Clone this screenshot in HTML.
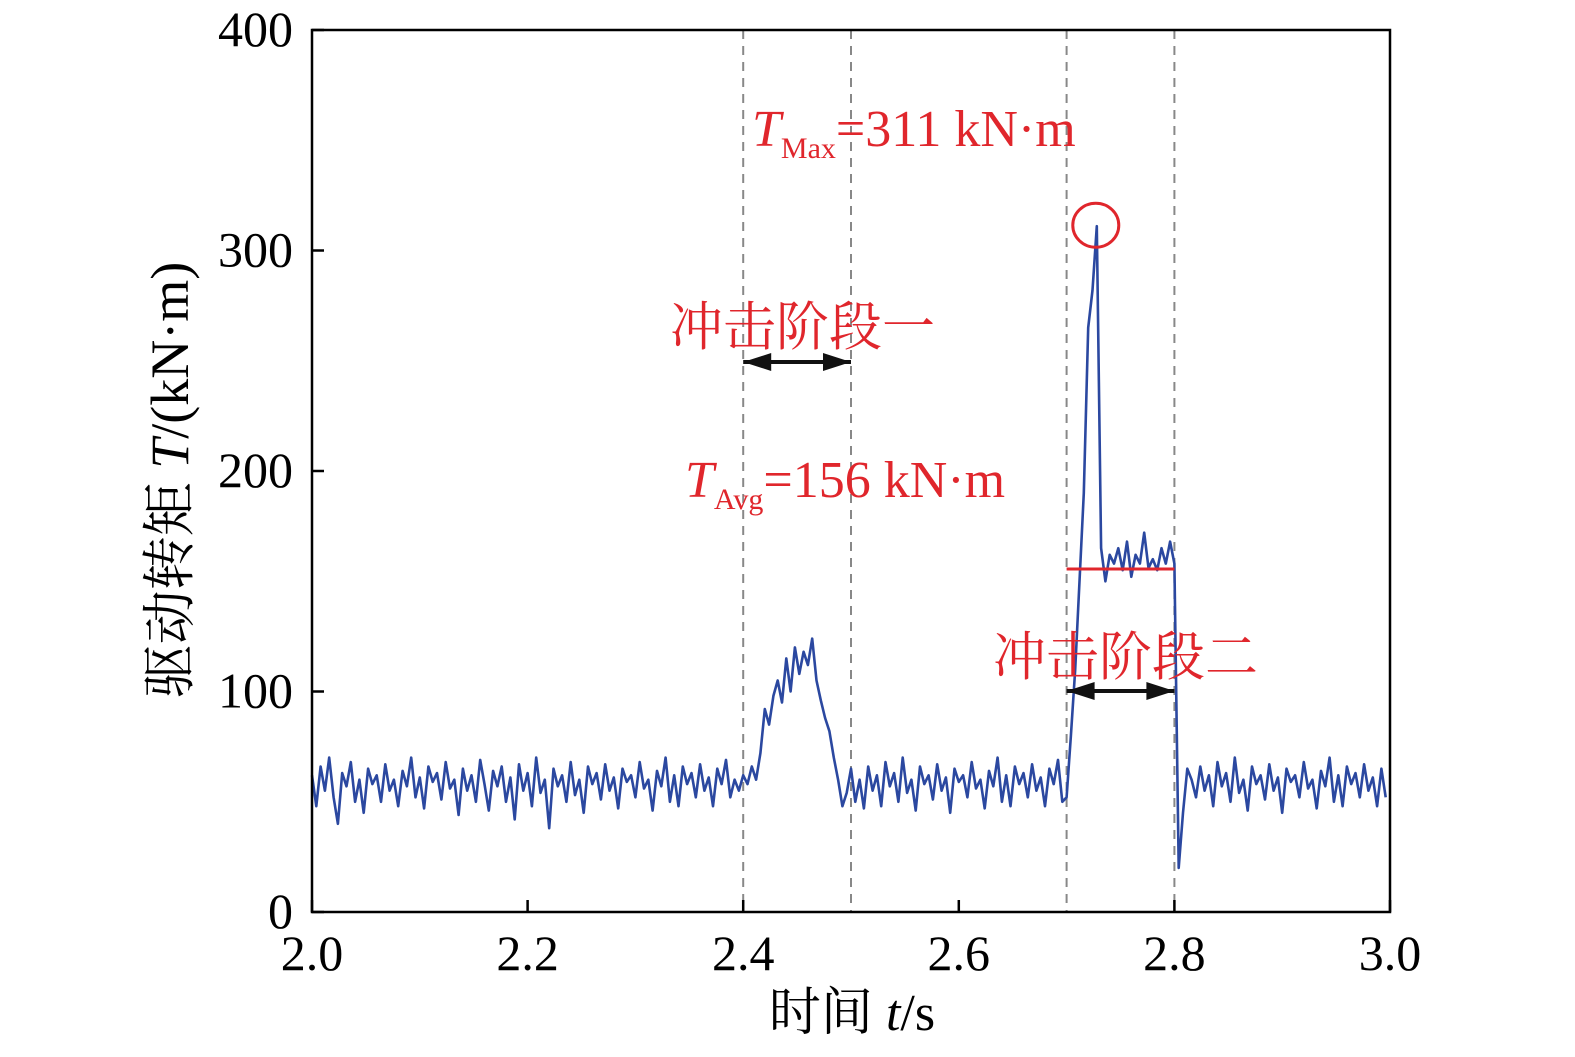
<!DOCTYPE html>
<html><head><meta charset="utf-8"><style>
body{margin:0;background:#fff}
svg text{font-family:"Liberation Serif","Noto Serif CJK SC",serif}
</style></head><body>
<svg id="chart" width="1575" height="1052">
<g id="grid"></g>
<path id="series" fill="none" stroke="#2b48a0" stroke-width="2.6" stroke-linejoin="round"/>
<g id="ann"></g>
<rect x="312" y="30" width="1078" height="882" fill="none" stroke="#000" stroke-width="2.5"/>
<g id="axes"></g>
</svg>
<script>
const t0 = 2.0;
const dt = 0.004;
const values = [
62,48,66,55,70,52,40,63,57,68,50,60,45,65,58,62,50,67,55,60,
48,64,57,70,52,61,47,66,59,63,51,68,56,60,44,65,55,62,50,69,
58,46,64,57,66,50,61,42,67,55,63,48,70,54,60,38,65,57,62,50,
68,53,60,45,66,58,63,51,67,55,61,47,65,59,62,52,68,56,60,46,
64,57,70,50,62,48,66,58,63,52,67,55,61,48,65,58,69,52,60,55,
62,58,66,60,72,92,85,98,105,95,115,100,120,108,118,112,124,105,96,88,82,70,60,48,54,
65,50,60,47,66,55,62,48,68,57,63,50,70,54,60,46,66,58,62,51,67,55,61,45,65,59,62,52,68,56,60,47,64,57,70,50,62,48,66,58,63,52,67,55,61,48,65,58,69,50,
52,80,110,150,190,265,282,311,165,150,162,158,165,155,168,152,162,158,172,156,160,155,165,158,168,158,
20,45,65,60,52,66,55,62,48,68,57,63,50,70,54,60,46,66,58,62,51,67,55,61,45,65,59,62,52,68,56,60,47,64,57,70,50,62,48,66,58,63,52,67,55,61,48,65,52
];
const xTicks = [2.0,2.2,2.4,2.6,2.8,3.0];
const xTickLabels = ["2.0","2.2","2.4","2.6","2.8","3.0"];
const yTicks = [0,100,200,300,400];
const yTickLabels = ["0","100","200","300","400"];
const stageBounds = [2.4,2.5,2.7,2.8];
const avgValue = 156;
const maxValue = 311;
const maxTime = 2.728;
const avgStart = 2.7, avgEnd = 2.8;

const X = v => 312 + (v-2.0)/1.0*1078;
const Y = v => 912 - v/400*882;
const NS="http://www.w3.org/2000/svg";
function mk(tag, attrs, parent, text){const e=document.createElementNS(NS,tag);for(const k in attrs)e.setAttribute(k,attrs[k]);if(text!==undefined)e.textContent=text;parent.appendChild(e);return e;}

let d="";
values.forEach((v,i)=>{d+=(i?"L":"M")+X(t0+i*dt).toFixed(1)+","+Y(v).toFixed(1);});
document.getElementById('series').setAttribute('d',d);

const g=document.getElementById('grid');
stageBounds.forEach(b=>{
 const l=mk('line',{x1:X(b),x2:X(b),y1:30,y2:912,stroke:'#888','stroke-width':2,'stroke-dasharray':'9,7'},g);
 
 
});

const ax=document.getElementById('axes');
xTicks.forEach((t,i)=>{
 mk('line',{x1:X(t),x2:X(t),y1:912,y2:900,stroke:'#000','stroke-width':2.5},ax);
 const tx=mk('text',{x:X(t),y:970,'font-size':50,'text-anchor':'middle'},ax,xTickLabels[i]);
 
 
});
yTicks.forEach((t,i)=>{
 mk('line',{x1:312,x2:324,y1:Y(t),y2:Y(t),stroke:'#000','stroke-width':2.5},ax);
 const tx=mk('text',{x:293,y:Y(t)+16,'font-size':50,'text-anchor':'end'},ax,yTickLabels[i]);
 
 
});
const xt=mk('text',{x:852,y:1030,'font-size':52,'text-anchor':'middle'},ax);
xt.innerHTML='时间 <tspan font-style="italic">t</tspan>/s';


const yt=mk('text',{x:0,y:0,'font-size':54,'text-anchor':'middle',transform:'translate(188,480) rotate(-90)'},ax);
yt.innerHTML='驱动转矩 <tspan font-style="italic">T</tspan>/(kN·m)';



const an=document.getElementById('ann');
const red='#e0262c';
function arrowHead(a,b,y){
 mk('path',{d:`M${X(a)},${y}L${X(a)+28},${y-9}L${X(a)+28},${y+9}Z M${X(b)},${y}L${X(b)-28},${y-9}L${X(b)-28},${y+9}Z`,fill:'#111'},an);
}
const a1=mk('line',{x1:X(stageBounds[0]),x2:X(stageBounds[1]),y1:362,y2:362,stroke:'#111','stroke-width':4},an);


arrowHead(stageBounds[0],stageBounds[1],362);
const a2=mk('line',{x1:X(stageBounds[2]),x2:X(stageBounds[3]),y1:691,y2:691,stroke:'#111','stroke-width':4},an);


arrowHead(stageBounds[2],stageBounds[3],691);

const s1=mk('text',{x:670,y:345,'font-size':53,fill:red},an,'冲击阶段一');


const s2=mk('text',{x:993,y:675,'font-size':53,fill:red},an,'冲击阶段二');



const avg=mk('line',{x1:X(avgStart),x2:X(avgEnd),y1:Y(avgValue)+1,y2:Y(avgValue)+1,stroke:red,'stroke-width':3},an);


const c=mk('ellipse',{cx:X(maxTime)-1,cy:Y(maxValue)-1,rx:23,ry:22,fill:'none',stroke:red,'stroke-width':3},an);



const tm=mk('text',{x:752,y:146,'font-size':52,fill:red},an);
tm.innerHTML='<tspan font-style="italic">T</tspan><tspan font-size="30" dy="12">Max</tspan><tspan dy="-12">=311 kN·m</tspan>';


const ta=mk('text',{x:685,y:497,'font-size':52,fill:red},an);
ta.innerHTML='<tspan font-style="italic">T</tspan><tspan font-size="30" dy="12">Avg</tspan><tspan dy="-12">=156 kN·m</tspan>';


</script>
</body></html>
